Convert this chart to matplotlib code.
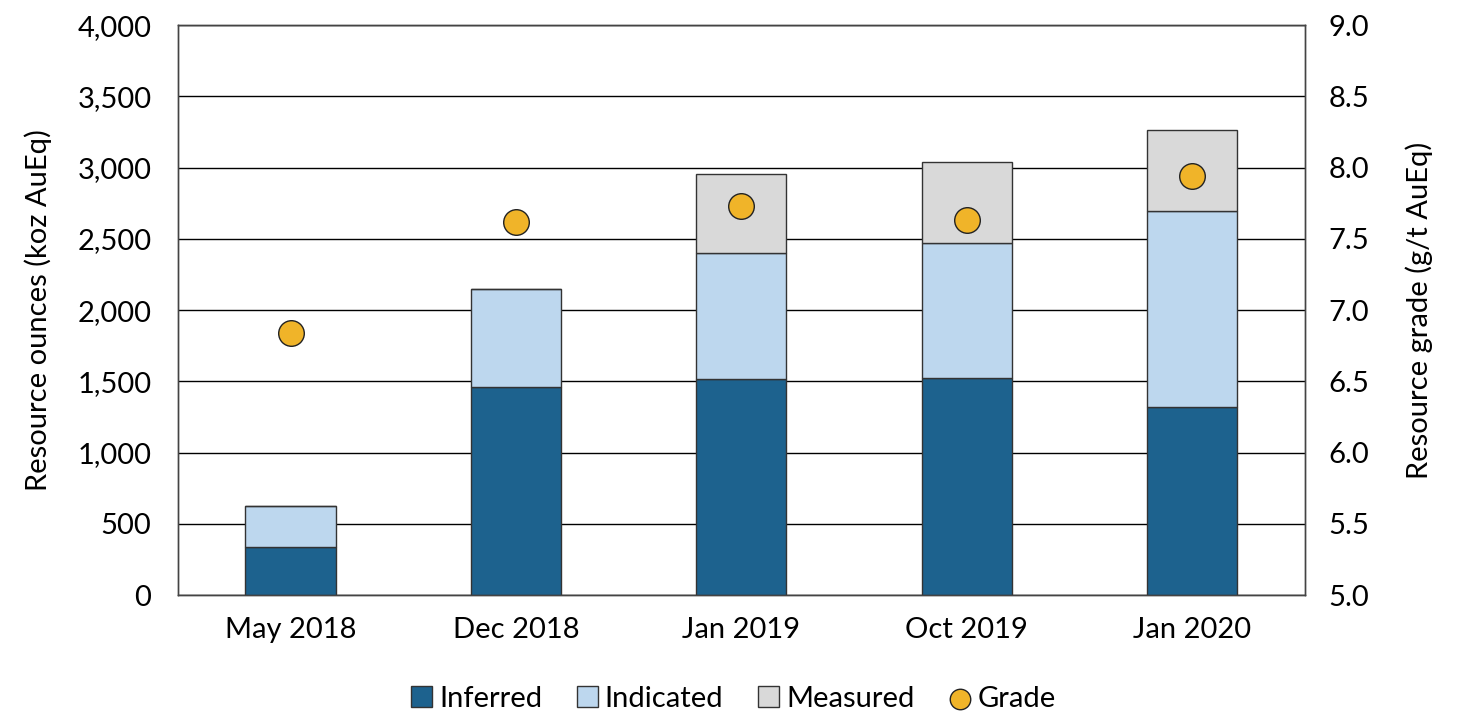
import matplotlib
matplotlib.use("Agg")
import matplotlib.pyplot as plt
import numpy as np

plt.rcParams['font.family'] = ['Lato', 'DejaVu Sans']

dates = ["May 2018", "Dec 2018", "Jan 2019", "Oct 2019", "Jan 2020"]
inferred = [337, 1458, 1519, 1526, 1318]
indicated = [291, 692, 885, 944, 1376]
measured = [0, 0, 551, 571, 568]
grade = [6.84, 7.62, 7.73, 7.63, 7.94]

fig = plt.figure(figsize=(14.58, 7.18), dpi=100)
ax = fig.add_axes([0.122, 0.171, 0.773, 0.794])
ax2 = ax.twinx()

x = np.arange(len(dates))
w = 0.4
edge = "#333333"
ax.bar(x, inferred, w, color="#1D628E", edgecolor=edge, linewidth=1, label="Inferred", zorder=3)
ax.bar(x, indicated, w, bottom=inferred, color="#BDD7EE", edgecolor=edge, linewidth=1,
       label="Indicated", zorder=3)
bottom2 = np.array(inferred) + np.array(indicated)
ax.bar(x, measured, w, bottom=bottom2, color="#D9D9D9", edgecolor=edge, linewidth=1,
       label="Measured", zorder=3)
ax2.scatter(x, grade, s=340, color="#F0B429", edgecolor="#222222", linewidth=1, zorder=4,
            label="Grade")

ax.set_ylim(0, 4000)
ax.set_yticks(np.arange(0, 4001, 500))
ax.set_yticklabels([f"{v:,}" for v in range(0, 4001, 500)])
ax2.set_ylim(5, 9)
ax2.set_yticks(np.arange(5, 9.01, 0.5))
ax2.set_yticklabels([f"{v:.1f}" for v in np.arange(5, 9.01, 0.5)])
ax.set_xlim(-0.5, len(dates) - 0.5)
ax.set_xticks(x)
ax.set_xticklabels(dates)

fs = 21
ax.yaxis.grid(True, color="black", linewidth=1)
ax.set_axisbelow(True)
ax.tick_params(axis="y", length=0, labelsize=fs, pad=19)
ax2.tick_params(axis="y", length=0, labelsize=fs, pad=17)
ax.tick_params(axis="x", length=0, labelsize=fs, pad=16)
for sp in list(ax.spines.values()) + list(ax2.spines.values()):
    sp.set_color("#444444")
    sp.set_linewidth(1)

ax.set_ylabel("Resource ounces (koz AuEq)", fontsize=fs, labelpad=18)
ax2.set_ylabel("Resource grade (g/t AuEq)", fontsize=fs, labelpad=26)

h1, l1 = ax.get_legend_handles_labels()
h2, l2 = ax2.get_legend_handles_labels()
fig.legend(h1 + h2, l1 + l2, loc="lower center", bbox_to_anchor=(0.503, -0.028), ncol=4,
           frameon=False, fontsize=fs, handlelength=0.7, handleheight=0.7,
           handletextpad=0.25, columnspacing=1.2, markerscale=0.8)

fig.savefig("out.png", dpi=100)
